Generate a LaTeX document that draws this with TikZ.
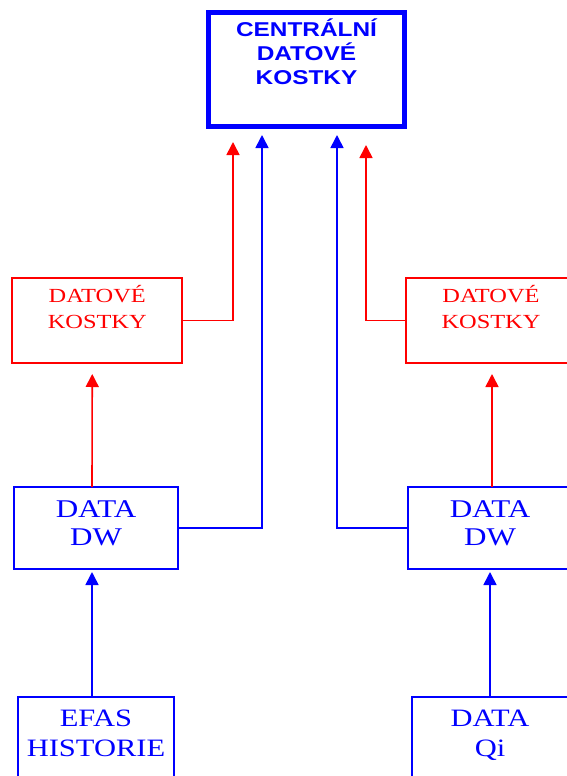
\documentclass[tikz,border=0pt]{standalone}
\usepackage{fontspec}
\usetikzlibrary{arrows.meta,calc}
\newfontfamily\serifst[FakeStretch=1.22]{Liberation Serif}
\newfontfamily\sansbst[FakeStretch=1.22]{Liberation Sans Bold}
\definecolor{myblue}{RGB}{0,0,255}
\definecolor{myred}{RGB}{255,0,0}
\tikzset{
  bluebox/.style={draw=myblue, line width=1.6pt, inner sep=0pt, outer sep=0pt, text=myblue},
  redbox/.style={draw=myred, line width=1.6pt, inner sep=0pt, outer sep=0pt, text=myred},
  centralbox/.style={draw=myblue, line width=5pt, inner sep=0pt, outer sep=0pt, text=myblue},
  blueline/.style={draw=myblue, line width=1.6pt, -{Triangle[width=13pt,length=13pt]}},
  redline/.style={draw=myred, line width=1.6pt, -{Triangle[width=13pt,length=13pt]}},
}
\begin{document}
\begin{tikzpicture}[x=1pt,y=-1pt]
\useasboundingbox (0,0) rectangle (567,776);
\clip (0,0) rectangle (567,776);
% central
\node[centralbox] (central) at (306.5,69.5)
  {\parbox[c][114pt][t]{196pt}{\centering\sansbst\fontsize{20}{24}\selectfont\rule{0pt}{24pt}CENTRÁLNÍ\\DATOVÉ\\KOSTKY}};
% red cubes
\node[redbox] (rcL) at (97.25,320.5)
  {\parbox[c][85pt][t]{170pt}{\centering\serifst\fontsize{20}{26}\selectfont\rule{0pt}{24pt}DATOVÉ\\KOSTKY}};
\node[redbox] (rcR) at (491,320.5)
  {\parbox[c][85pt][t]{170pt}{\centering\serifst\fontsize{20}{26}\selectfont\rule{0pt}{24pt}DATOVÉ\\KOSTKY}};
% DW
\node[bluebox] (dwL) at (96,528)
  {\parbox[c][82pt][t]{164pt}{\centering\serifst\fontsize{25.5}{28}\selectfont\rule{0pt}{30pt}DATA\\DW}};
\node[bluebox] (dwR) at (490,528)
  {\parbox[c][82pt][t]{164pt}{\centering\serifst\fontsize{25.5}{28}\selectfont\rule{0pt}{30pt}DATA\\DW}};
% sources
\node[bluebox] (efas) at (96,747)
  {\parbox[c][100pt][t]{156pt}{\centering\serifst\fontsize{25}{30}\selectfont\rule{0pt}{29pt}EFAS\\HISTORIE}};
\node[bluebox] (qi) at (490,747)
  {\parbox[c][100pt][t]{156pt}{\centering\serifst\fontsize{25}{30}\selectfont\rule{0pt}{29pt}DATA\\Qi}};
% free ends under the central box
\coordinate (tipRL) at (233,142);
\coordinate (tipBL) at (262,135);
\coordinate (tipBR) at (337,135);
\coordinate (tipRR) at (366,145);
% connectors
\draw[blueline] ($(efas.north)+(-4,0)$) -- ($(dwL.south)+(-4,3)$);
\draw[blueline] (qi.north) -- ($(dwR.south)+(0,3)$);
\draw[redline] ($(dwL.north)+(-4,0)$) -- ($(rcL.south)+(-5,11)$);
\draw[redline] ($(dwR.north)+(2,0)$) -- ($(rcR.south)+(1,11)$);
\draw[redline] (rcL.east) -| (tipRL);
\draw[redline] (rcR.west) -| (tipRR);
\draw[blueline] (dwL.east) -| (tipBL);
\draw[blueline] (dwR.west) -| (tipBR);
\end{tikzpicture}
\end{document}
